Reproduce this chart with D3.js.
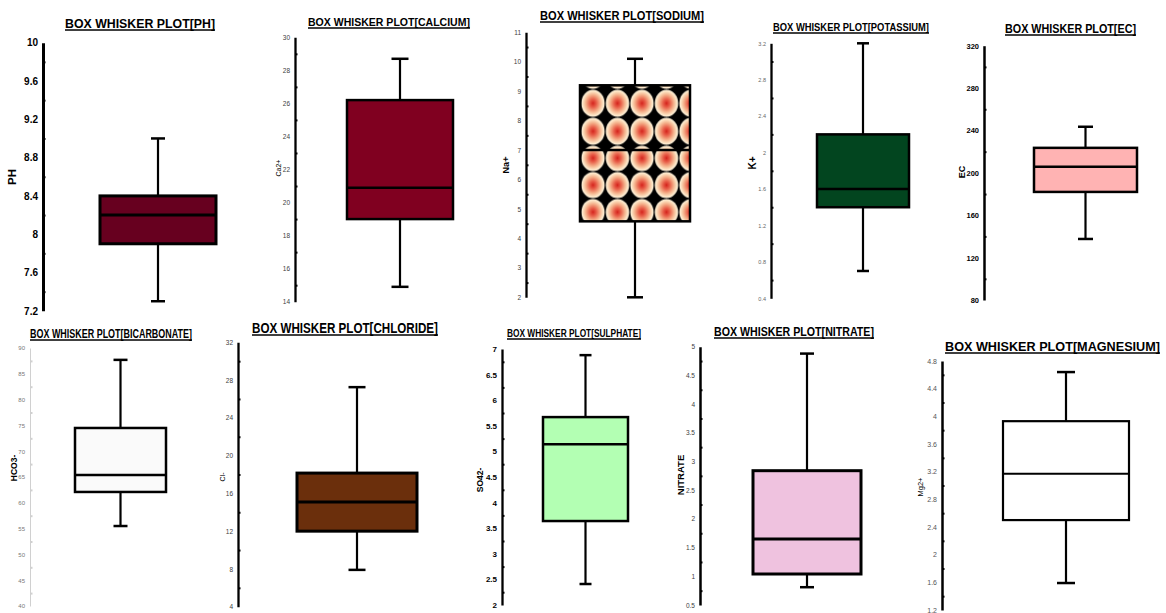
<!DOCTYPE html>
<html>
<head>
<meta charset="utf-8">
<script src="https://cdn.jsdelivr.net/npm/d3@7"></script>
<style>
  html, body { margin: 0; padding: 0; background: #fff; }
  svg { display: block; }
</style>
</head>
<body>
<svg id="chart" width="1166" height="613"></svg>
<script>
// ---------------- DATA ----------------
const panels       = ["PH","CALCIUM","SODIUM","POTASSIUM","EC","BICARBONATE","CHLORIDE","SULPHATE","NITRATE","MAGNESIUM"];
const yTitles      = ["PH","Ca2+","Na+","K+","EC","HCO3-","Cl-","SO42-","NITRATE","Mg2+"];
const whiskerLow   = [7.3, 14.9, 2.0, 0.7, 137.6, 55.5, 7.9, 2.41, 0.81, 1.59];
const q1           = [7.9, 19.0, 4.58, 1.4, 182, 62.1, 12.0, 3.64, 1.04, 2.5];
const median       = [8.2, 20.9, 7.0, 1.6, 205.7, 65.4, 15.1, 5.14, 1.65, 3.17];
const q3           = [8.4, 26.2, 9.2, 2.2, 223.6, 74.5, 18.15, 5.67, 2.84, 3.93];
const whiskerHigh  = [9.0, 28.7, 10.1, 3.2, 243.5, 87.7, 27.25, 6.88, 4.88, 4.64];
const axisMin      = [7.2, 14, 2, 0.4, 80, 40, 4, 2, 0.5, 1.2];
const axisMax      = [10, 30, 11, 3.2, 320, 90, 32, 7, 5, 4.8];
const tickStep     = [0.4, 2, 1, 0.4, 40, 5, 4, 0.5, 0.5, 0.4];

// ---------------- LAYOUT / STYLE ----------------
const layout = [
  {ax:43,  top:42.7,  bot:310.8, bl:100,  br:216,  cap:7,   tx0:65,   tx1:215,  ty:28,  ts:13.5, yl:[13,177],  yls:11.5, ylb:true,  tks:10,  tkb:true,  tkc:"#000",    axc:"#000",    axw:3,   fill:"#67001f", bw:3},
  {ax:295, top:37.3,  bot:301.7, bl:347,  br:453,  cap:8.5, tx0:308,  tx1:470,  ty:26,  ts:11.5, yl:[279,168], yls:7,    ylb:false, tks:6.5, tkb:false, tkc:"#404040", axc:"#000",    axw:2.3, fill:"#800020", bw:2.5},
  {ax:526, top:32.3,  bot:297.3, bl:580,  br:690,  cap:8,   tx0:540,  tx1:704,  ty:20,  ts:12.5, yl:[507,165], yls:9,    ylb:true,  tks:6.5, tkb:false, tkc:"#404040", axc:"#000",    axw:2.3, fill:"pattern", bw:2.5},
  {ax:771, top:43.3,  bot:298.3, bl:817,  br:909,  cap:6,   tx0:773,  tx1:929,  ty:31,  ts:10.5, yl:[753,163], yls:10,   ylb:true,  tks:5.5, tkb:false, tkc:"#666",    axc:"#000",    axw:2.3, fill:"#02451f", bw:2.5},
  {ax:984, top:45.7,  bot:300,   bl:1034, br:1137, cap:7.5, tx0:1005, tx1:1136, ty:33,  ts:12,   yl:[963,172], yls:9,    ylb:true,  tks:7.5, tkb:true,  tkc:"#000",    axc:"#000",    axw:2.5, fill:"#ffb3b3", bw:2.5},
  {ax:30,  top:348,   bot:606,   bl:75,   br:166,  cap:7,   tx0:30,   tx1:192,  ty:338, ts:12,   yl:[15,468],  yls:8.5,  ylb:true,  tks:6,   tkb:false, tkc:"#777",    axc:"#d0d0d0", axw:1,   fill:"#fafafa", bw:2.5},
  {ax:238, top:342.3, bot:606.7, bl:297,  br:417,  cap:8.5, tx0:252,  tx1:438,  ty:333, ts:14,   yl:[223,477], yls:7,    ylb:false, tks:6.5, tkb:false, tkc:"#404040", axc:"#000",    axw:2.3, fill:"#6b2f0c", bw:3},
  {ax:502, top:349,   bot:605,   bl:543,  br:628,  cap:6,   tx0:507,  tx1:641,  ty:337, ts:10.5, yl:[481,480], yls:8.5,  ylb:true,  tks:8,   tkb:true,  tkc:"#000",    axc:"#000",    axw:2.3, fill:"#b3ffb3", bw:2.5},
  {ax:700, top:346.7, bot:605,   bl:753,  br:861,  cap:7,   tx0:714,  tx1:874,  ty:336, ts:13,   yl:[681,475], yls:9.5,  ylb:true,  tks:6.5, tkb:false, tkc:"#404040", axc:"#000",    axw:2.5, fill:"#efc2df", bw:3},
  {ax:942, top:361,   bot:610,   bl:1003, br:1129, cap:9,   tx0:945,  tx1:1160, ty:351, ts:13,   yl:[921,487], yls:7.5,  ylb:false, tks:7,   tkb:false, tkc:"#555",    axc:"#000",    axw:2.5, fill:"#ffffff", bw:2.2}
];

const titleFont = "'Liberation Sans Narrow','Liberation Sans',Arial,sans-serif";
const labelFont = "'Liberation Sans',Arial,sans-serif";

const svg = d3.select("#chart");
const defs = svg.append("defs");

// radial gradient for the sodium pattern fill
const rg = defs.append("radialGradient").attr("id", "naGrad");
[["0%","#d4231c"],["30%","#e8604a"],["62%","#f4b08a"],["88%","#fde6c6"],["100%","#fff4e0"]]
  .forEach(([o,c]) => rg.append("stop").attr("offset", o).attr("stop-color", c));

function makePattern(id, x, y, w, h) {
  const p = defs.append("pattern").attr("id", id).attr("patternUnits", "userSpaceOnUse")
    .attr("x", x).attr("y", y).attr("width", w).attr("height", h);
  p.append("rect").attr("width", w).attr("height", h).attr("fill", "#000");
  p.append("ellipse").attr("cx", w/2).attr("cy", h/2).attr("rx", w/2 - 0.6).attr("ry", h/2 - 0.4)
    .attr("fill", "url(#naGrad)");
}

panels.forEach((name, i) => {
  const L = layout[i];
  const y = d3.scaleLinear().domain([axisMin[i], axisMax[i]]).range([L.bot, L.top]);
  const n = Math.round((axisMax[i] - axisMin[i]) / tickStep[i]);
  const majors = d3.range(0, n + 1).map(k => +(axisMin[i] + k * tickStep[i]).toFixed(4));
  const minors = d3.range(0, n).map(k => +(axisMin[i] + (k + 0.5) * tickStep[i]).toFixed(4));
  const g = svg.append("g");

  // title
  g.append("text")
    .attr("x", L.tx0).attr("y", L.ty)
    .attr("font-family", titleFont).attr("font-weight", "bold").attr("font-size", L.ts)
    .attr("textLength", L.tx1 - L.tx0).attr("lengthAdjust", "spacingAndGlyphs")
    .attr("fill", "#000")
    .text("BOX WHISKER PLOT[" + name + "]");
  g.append("line").attr("x1", L.tx0).attr("x2", L.tx1)
    .attr("y1", L.ty + 2).attr("y2", L.ty + 2)
    .attr("stroke", "#000").attr("stroke-width", 1.3);

  // axis (major labels)
  const axG = g.append("g").attr("transform", `translate(${L.ax},0)`)
    .call(d3.axisLeft(y).tickValues(majors).tickSize(0).tickSizeOuter(0).tickPadding(5)
      .tickFormat(d => String(d)));
  axG.select(".domain").attr("stroke", L.axc).attr("stroke-width", L.axw);
  axG.selectAll(".tick text")
    .attr("font-family", labelFont).attr("font-size", L.tks)
    .attr("font-weight", L.tkb ? "bold" : "normal").attr("fill", L.tkc);

  // minor ticks (inside)
  const mG = g.append("g").attr("transform", `translate(${L.ax},0)`)
    .call(d3.axisRight(y).tickValues(minors).tickSize(2.5).tickFormat(""));
  mG.select(".domain").remove();
  mG.selectAll(".tick line").attr("stroke", L.axc).attr("stroke-width", 2);

  // y title
  g.append("text")
    .attr("transform", `translate(${L.yl[0]},${L.yl[1]}) rotate(-90)`)
    .attr("text-anchor", "middle").attr("dominant-baseline", "middle")
    .attr("font-family", labelFont).attr("font-size", L.yls)
    .attr("font-weight", L.ylb ? "bold" : "normal").attr("fill", "#000")
    .text(yTitles[i]);

  const cx = (L.bl + L.br) / 2;
  // whiskers
  g.append("line").attr("x1", cx).attr("x2", cx)
    .attr("y1", y(q3[i])).attr("y2", y(whiskerHigh[i]))
    .attr("stroke", "#000").attr("stroke-width", 2.2);
  g.append("line").attr("x1", cx).attr("x2", cx)
    .attr("y1", y(q1[i])).attr("y2", y(whiskerLow[i]))
    .attr("stroke", "#000").attr("stroke-width", 2.2);
  [whiskerHigh[i], whiskerLow[i]].forEach(v => {
    g.append("line").attr("x1", cx - L.cap).attr("x2", cx + L.cap)
      .attr("y1", y(v)).attr("y2", y(v))
      .attr("stroke", "#000").attr("stroke-width", 2.5);
  });

  // box
  if (L.fill === "pattern") {
    const yTop = y(q3[i]), yMed = y(median[i]), yBot = y(q1[i]);
    makePattern("naUpper", L.bl + 0.75, yTop + 4, 24.5, 28);
    makePattern("naLower", L.bl + 0.75, yMed - 5.5, 24.5, 27);
    g.append("rect").attr("x", L.bl).attr("y", yTop).attr("width", L.br - L.bl)
      .attr("height", yMed - yTop).attr("fill", "url(#naUpper)");
    g.append("rect").attr("x", L.bl).attr("y", yMed).attr("width", L.br - L.bl)
      .attr("height", yBot - yMed).attr("fill", "url(#naLower)");
    g.append("rect").attr("x", L.bl).attr("y", yTop).attr("width", L.br - L.bl)
      .attr("height", yBot - yTop).attr("fill", "none")
      .attr("stroke", "#000").attr("stroke-width", L.bw);
  } else {
    g.append("rect").attr("x", L.bl).attr("y", y(q3[i]))
      .attr("width", L.br - L.bl).attr("height", y(q1[i]) - y(q3[i]))
      .attr("fill", L.fill).attr("stroke", "#000").attr("stroke-width", L.bw);
  }
  g.append("line").attr("x1", L.bl).attr("x2", L.br)
    .attr("y1", y(median[i])).attr("y2", y(median[i]))
    .attr("stroke", "#000").attr("stroke-width", L.bw);
});
</script>
</body>
</html>
